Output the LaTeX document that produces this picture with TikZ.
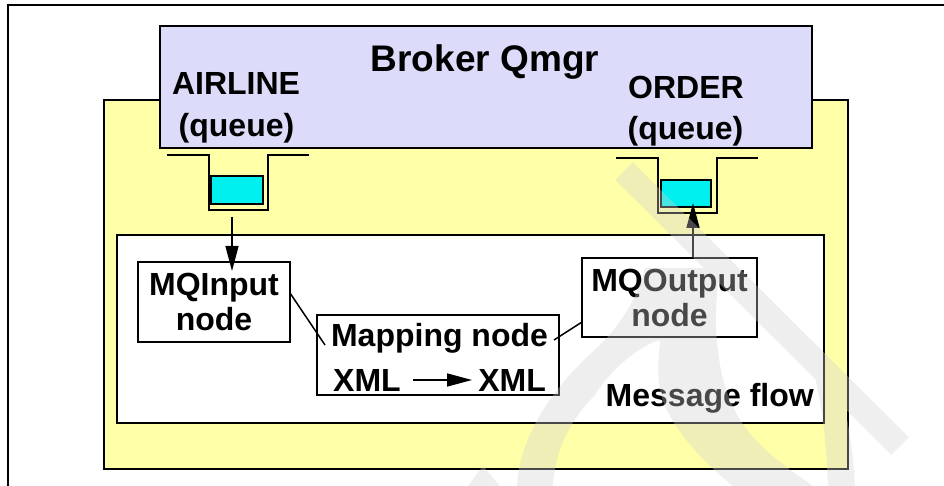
\documentclass[tikz,border=0pt]{standalone}
\usepackage{fontspec}
\setmainfont{Liberation Sans}
\usetikzlibrary{arrows.meta,calc}
\definecolor{brokerfill}{RGB}{220,220,250}
\definecolor{yellowfill}{RGB}{255,255,168}
\definecolor{queuefill}{RGB}{0,240,240}
\definecolor{wmgray}{RGB}{209,209,209}
\begin{document}
\begin{tikzpicture}[x=1pt,y=-1pt,
  lbl/.style={font=\bfseries\fontsize{32}{35}\selectfont, inner sep=0pt},
  box/.style={draw=black, line width=1.8pt, inner sep=0pt, outer sep=0pt},
  txtbox/.style={box, align=center, font=\bfseries\fontsize{32}{35}\selectfont},
  arr/.style={line width=1.5pt, -{Triangle[length=25pt,width=13pt]}},
  conn/.style={line width=1.5pt},
  trough/.style={line width=1.8pt},
]
\useasboundingbox (0,0) rectangle (944,486);
% frame
\draw[line width=1.2pt] (8,486) -- (8,5) -- (944,5);
% execution group (yellow)
\node[box, fill=yellowfill, minimum width=744pt, minimum height=369pt] (host) at (476,284.5) {};
% broker queue manager
\node[box, fill=brokerfill, minimum width=652pt, minimum height=122pt] (broker) at (486,87) {};
\node[lbl, font=\bfseries\fontsize{37}{40}\selectfont, anchor=base] (brokertitle) at (485,72) {Broker Qmgr};
\node[lbl, anchor=base] (airname) at (236,95) {AIRLINE};
\node[lbl, anchor=base] (airkind) at (236.5,137) {(queue)};
\node[lbl, anchor=base] (ordername) at (686,99) {ORDER};
\node[lbl, anchor=base] (orderkind) at (685.5,140) {(queue)};
% queues
\draw[trough] (167,155) -- (209,155) -- (209,210) -- (268,210) -- (268,155) -- (309,155);
\draw[trough] (616,158) -- (658,158) -- (658,213) -- (717,213) -- (717,158) -- (758,158);
\node[box, fill=queuefill, minimum width=52pt, minimum height=28pt] (airbuf) at (237,190) {};
\node[box, fill=queuefill, minimum width=50pt, minimum height=27pt] (orderbuf) at (686,193.5) {};
% message flow
\node[box, fill=white, minimum width=707pt, minimum height=188pt] (flow) at (470.5,329) {};
\node[lbl, anchor=base east] (flowtxt) at (814,406) {Message flow};
\node[txtbox, fill=white, minimum width=152pt, minimum height=80pt] (mqin) at (214,302) {MQInput\\node};
\node[txtbox, fill=white, minimum width=175pt, minimum height=79pt] (mqout) at (669.5,297.5) {MQOutput\\node};
\node[box, fill=white, minimum width=242pt, minimum height=80pt] (map) at (438,355) {};
\node[lbl, anchor=base] (maptxt) at (439.5,346) {Mapping node};
\node[lbl, anchor=base west] (xmlin) at (333,391) {XML};
\node[lbl, anchor=base east] (xmlout) at (546,391) {XML};
% connectors
\draw[arr, shorten <=12pt, shorten >=6pt] (xmlin) -- (xmlout);
\coordinate (airout) at (232,217);
\draw[arr] (airout) -- ($(airout |- mqin.north)+(0,9)$);
\draw[arr] ($(mqout.north)+(23.5,0)$) -- ($(orderbuf.south)+(7,-4)$);
\draw[conn] ($(mqin.east)+(0,-9)$) -- ($(map.west)+(8,-10)$);
\draw[conn] ($(map.east)+(-5,-15)$) -- ($(mqout.west)+(0,24.5)$);
% watermark
\fill[wmgray, opacity=0.35]
  (632.8,162.2) -- (908.8,437.2) -- (891.2,454.8) -- (615.2,179.8) -- cycle
  (517,486) .. controls (520,430) and (560,380) .. (600,345)
    .. controls (625,320) and (640,290) .. (645,268) -- (720,268)
    .. controls (712,320) and (715,380) .. (740,420)
    .. controls (760,450) and (790,470) .. (813,486) -- (733,486)
    .. controls (700,460) and (665,420) .. (660,390)
    .. controls (656,370) and (660,350) .. (660,340)
    .. controls (640,345) and (610,370) .. (595,395)
    .. controls (570,420) and (555,450) .. (553,486) -- cycle
  (805,345) -- (840,385) .. controls (848,420) and (853,450) .. (855,486)
    -- (828,486) .. controls (826,440) and (822,390) .. (805,345) -- cycle
  (468,486) -- (483,466) -- (500,486) -- cycle;
\end{tikzpicture}
\end{document}
